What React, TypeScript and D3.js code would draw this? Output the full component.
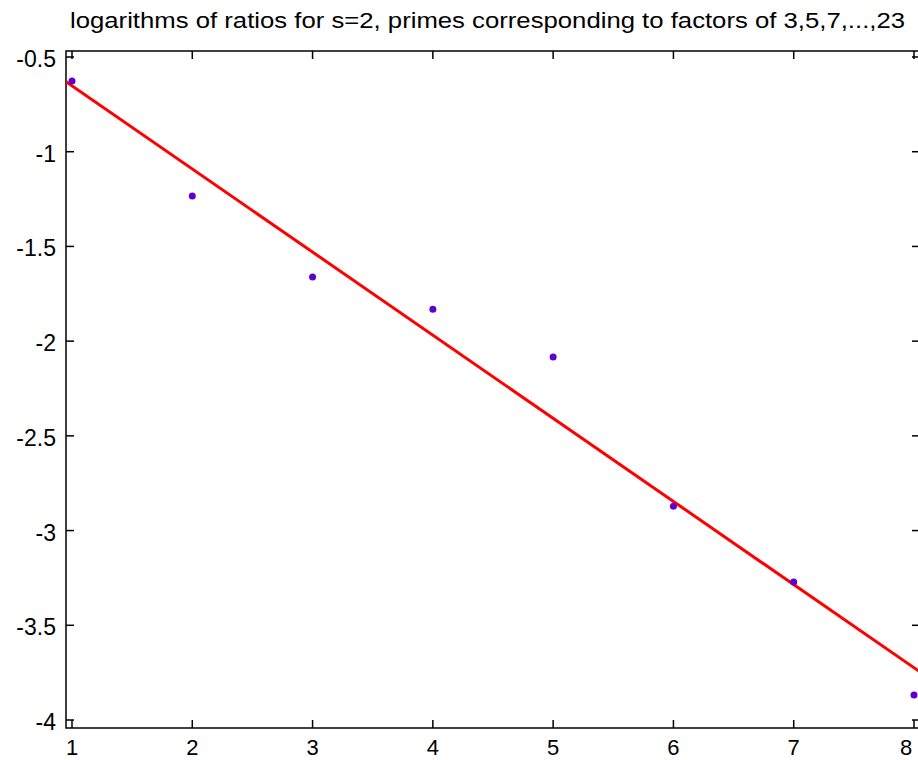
import React from "react";
import * as d3 from "d3";

const xValues = [1, 2, 3, 4, 5, 6, 7, 8];
const yValues = [-0.627, -1.234, -1.662, -1.831, -2.084, -2.871, -3.272, -3.868];
const fitX = [0.95, 8.05];
const fitY = [-0.63, -3.746];
const xTicks = [1, 2, 3, 4, 5, 6, 7, 8];
const yTicks = [-0.5, -1, -1.5, -2, -2.5, -3, -3.5, -4];
const title = "logarithms of ratios for s=2, primes corresponding to factors of 3,5,7,...,23";

export default function App() {
  const W = 918, H = 760;
  const boxL = 66, boxR = 920, boxT = 51, boxB = 728;
  const x = d3.scaleLinear().domain([1, 8]).range([72, 914]);
  const y = d3.scaleLinear().domain([-4, -0.5]).range([720, 57]);
  const line = d3.line<number>().x((d) => x(fitX[d])).y((d) => y(fitY[d]));
  const font = "'Liberation Sans', Arial, sans-serif";
  const tl = 8;
  return (
    <svg width={W} height={H} style={{ position: "absolute", left: 0, top: 0, background: "#fff" }}>
      <defs>
        <clipPath id="plotclip">
          <rect x={boxL} y={boxT} width={boxR - boxL} height={boxB - boxT} />
        </clipPath>
      </defs>
      <rect x={0} y={0} width={W} height={H} fill="#fff" />
      <text x={70} y={28} fontFamily={font} fontSize={22} fill="#000" textLength={835} lengthAdjust="spacingAndGlyphs">
        {title}
      </text>
      <rect x={boxL} y={boxT} width={boxR - boxL} height={boxB - boxT} fill="none" stroke="#000" strokeWidth={1.5} />
      {xTicks.map((t) => (
        <g key={"x" + t}>
          <line x1={x(t)} x2={x(t)} y1={boxB} y2={boxB - tl} stroke="#000" strokeWidth={1.5} />
          <line x1={x(t)} x2={x(t)} y1={boxT} y2={boxT + tl} stroke="#000" strokeWidth={1.5} />
          <text x={Math.min(x(t), 906)} y={755} textAnchor="middle" fontFamily={font} fontSize={22} fill="#000">
            {t}
          </text>
        </g>
      ))}
      {yTicks.map((t) => (
        <g key={"y" + t}>
          <line x1={boxL} x2={boxL + tl} y1={y(t)} y2={y(t)} stroke="#000" strokeWidth={1.5} />
          <line x1={boxR} x2={boxR - tl} y1={y(t)} y2={y(t)} stroke="#000" strokeWidth={1.5} />
          <text x={56} y={y(t) + 10} textAnchor="end" fontFamily={font} fontSize={23} fill="#000">
            {t}
          </text>
        </g>
      ))}
      <g clipPath="url(#plotclip)">
        <path d={line([0, 1]) || ""} fill="none" stroke="#ff0000" strokeWidth={3} />
        {xValues.map((xv, i) => (
          <circle key={i} cx={x(xv)} cy={y(yValues[i])} r={3.5} fill="#6000d0" />
        ))}
      </g>
    </svg>
  );
}
